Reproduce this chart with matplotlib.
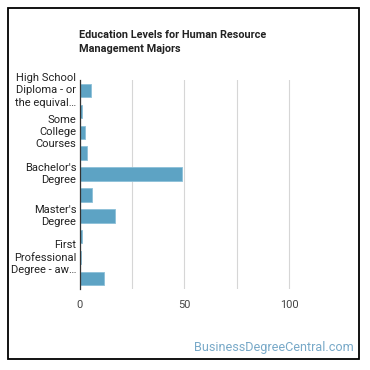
import matplotlib.pyplot as plt
from matplotlib.patches import Rectangle

plt.rcParams["font.family"] = ["Roboto", "DejaVu Sans"]

categories = [
    "High School Diploma",
    "Post-Secondary Certificate",
    "Some College Courses",
    "Associate's Degree",
    "Bachelor's Degree",
    "Post-Baccalaureate Certificate",
    "Master's Degree",
    "Post-Master's Certificate",
    "First Professional Degree",
    "Doctoral Degree",
]
shares = [5.5, 1.4, 2.7, 3.6, 48.8, 6.0, 17.0, 1.4, 0.6, 11.7]
tick_labels = [
    "High School\nDiploma - or\nthe equival\u2026",
    "",
    "Some\nCollege\nCourses",
    "",
    "Bachelor's\nDegree",
    "",
    "Master's\nDegree",
    "",
    "First\nProfessional\nDegree - aw\u2026",
    "",
]
x_ticks = [0, 25, 50, 75, 100]
x_tick_labels = ["0", "", "50", "", "100"]

fig = plt.figure(figsize=(3.7, 3.7), dpi=100)
ax = fig.add_axes([79.5 / 370, 1 - 289 / 370, 262 / 370, 209 / 370])

positions = list(range(len(categories)))
ax.barh(positions, shares, height=0.64, color="#5DA3C4",
        edgecolor="#8CC0D8", linewidth=0.6, zorder=3)

ax.set_ylim(len(categories) - 0.5, -0.5)
ax.set_xlim(0, 125)
ax.set_yticks(positions)
ax.set_yticklabels([])
ax.set_xticks(x_ticks)
ax.set_xticklabels(x_tick_labels, fontsize=7.9, color="#444444")
ax.tick_params(axis="both", length=0)
ax.tick_params(axis="x", pad=8)
ax.grid(axis="x", color="#d6d6d6", linewidth=0.8, zorder=0)

# category labels drawn by hand so that wrapped lines align right
for pos, label in zip(positions, tick_labels):
    if label:
        ax.text(-0.012, pos, label, transform=ax.get_yaxis_transform(),
                ha="right", va="center", multialignment="right",
                fontsize=8, color="#222222", linespacing=1.27)

for side in ["top", "right", "bottom"]:
    ax.spines[side].set_visible(False)
ax.spines["left"].set_color("#333333")
ax.spines["left"].set_linewidth(0.9)
ax.spines["left"].set_zorder(4)

fig.text(79 / 370, 1 - 42 / 370,
         "Education Levels for Human Resource\nManagement Majors",
         fontsize=7.8, fontweight="bold", color="#222222",
         ha="left", va="center", linespacing=1.45)

fig.text(354 / 370, 1 - 347 / 370, "BusinessDegreeCentral.com",
         fontsize=9.1, color="#78A9C8", ha="right", va="center")

fig.patches.append(Rectangle((8 / 370, 1 - 359 / 370), 351 / 370, 351 / 370,
                             transform=fig.transFigure, fill=False,
                             edgecolor="black", linewidth=1.3))

fig.savefig("out.png", dpi=100)
